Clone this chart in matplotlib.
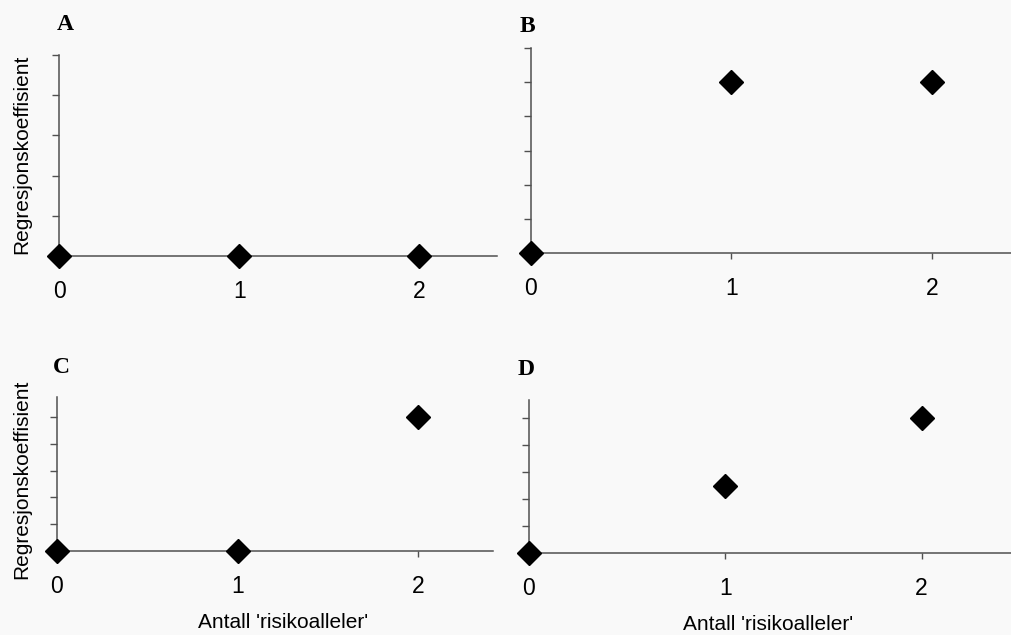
import matplotlib.pyplot as plt

# Data (x = number of risk alleles, y = regression coefficient)
x_vals = [0, 1, 2]
y_a = [0, 0, 0]
y_b = [0, 5, 5]
y_c = [0, 0, 5]
y_d = [0, 2.5, 5]
panel_letters = ['A', 'B', 'C', 'D']
tick_labels = ['0', '1', '2']
ylabel_text = 'Regresjonskoeffisient'
xlabel_text = "Antall 'risikoalleler'"

plt.rcParams['font.family'] = ['Liberation Sans', 'DejaVu Sans']

W, H = 1012, 635
bg = '#f9f9f9'
axis_col = '#505050'

fig = plt.figure(figsize=(W / 100, H / 100), dpi=100, facecolor=bg)

# (left px, axis y px, right px, top px, xmax, ymax, y values, yticks)
panels = [
    (59, 256, 497, 55, 2.43, 5.0, y_a, [1, 2, 3, 4, 5]),
    (531, 253, 1012, 48, 2.40, 6.0, y_b, [1, 2, 3, 4, 5, 6]),
    (57, 551, 493, 397, 2.415, 5.75, y_c, [1, 2, 3, 4, 5]),
    (529, 553, 1012, 400, 2.46, 5.67, y_d, [1, 2, 3, 4, 5]),
]

axes = []
for (l, b, r, t, xmax, ymax, ys, yt) in panels:
    ax = fig.add_axes([l / W, (H - b) / H, (r - l) / W, (b - t) / H])
    ax.set_facecolor('none')
    ax.set_xlim(0, xmax)
    ax.set_ylim(0, ymax)
    for s in ['top', 'right']:
        ax.spines[s].set_visible(False)
    for s in ['left', 'bottom']:
        ax.spines[s].set_color(axis_col)
        ax.spines[s].set_linewidth(1.1)
    ax.plot(x_vals, ys, linestyle='none', marker='D', markersize=12.5,
            color='black', clip_on=False, zorder=5)
    ax.set_yticks(yt)
    ax.set_yticklabels([])
    ax.set_xticks(x_vals)
    ax.set_xticklabels(tick_labels, fontsize=16.5)
    ax.tick_params(axis='y', direction='out', length=5, width=1, color=axis_col)
    ax.tick_params(axis='x', direction='out', length=4.5, width=1, color=axis_col,
                   pad=13)
    axes.append(ax)

# Panel letters
letter_pos = [(57, 30), (520, 32), (53, 373), (518, 375)]
for letter, (px, py) in zip(panel_letters, letter_pos):
    fig.text(px / W, 1 - py / H, letter, fontsize=17, fontweight='bold',
             family='Liberation Serif', ha='left', va='baseline')

# Y labels
for cy in [154, 479]:
    fig.text(22 / W, 1 - cy / H, ylabel_text, rotation=90, fontsize=15,
             ha='center', va='center')

# X labels
for cx, cy in [(283, 623), (768, 625)]:
    fig.text(cx / W, 1 - cy / H, xlabel_text, fontsize=15,
             ha='center', va='center')

fig.savefig('out.png', dpi=100, facecolor=bg)
